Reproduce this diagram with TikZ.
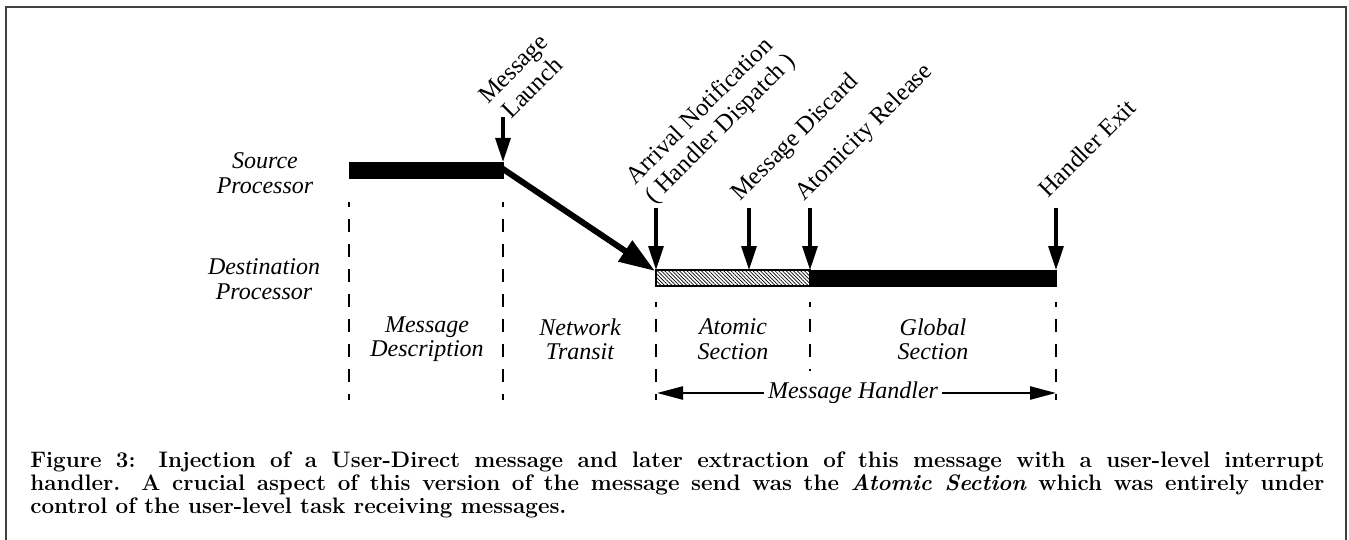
\documentclass[tikz,border=0pt]{standalone}
\usepackage{fontspec}
\newfontfamily\tms{Liberation Serif}
\usetikzlibrary{arrows.meta,patterns.meta}
\begin{document}
\begin{tikzpicture}[x=0.5pt,y=-0.5pt,
  lbl/.style={font=\tms\fontsize{12}{12.2}\selectfont\itshape, align=center, inner sep=0pt},
  rlbl/.style={font=\tms\fontsize{12.3}{13.6}\selectfont, rotate=45, anchor=base west, inner sep=0pt},
  evt/.style={line width=1.6pt, -{Triangle[length=12pt,width=7.5pt]}},
  guide/.style={line width=1pt, dash pattern=on 6.5pt off 6pt, dash phase=4pt},
  hndl/.style={line width=1.2pt, -{Triangle[length=13pt,width=6.5pt]}},
  frame/.style={line width=1pt, black!75}]
\useasboundingbox (0,0) rectangle (1349,540);
% frame
\coordinate (f1) at (6,545); \coordinate (f2) at (6,7);
\coordinate (f3) at (1346,7); \coordinate (f4) at (1346,545);
\draw[frame] (f1) -- (f2) -- (f3) -- (f4);

% processor labels
\node[lbl] (src) at (265,173) {Source\\Processor};
\node[lbl] (dst) at (264,279) {Destination\\Processor};

% guides
\coordinate (g1a) at (349,202); \coordinate (g1b) at (349,400);
\coordinate (g2a) at (503,202); \coordinate (g2b) at (503,400);
\coordinate (g3a) at (656,302); \coordinate (g3b) at (656,400);
\coordinate (g4a) at (810,302); \coordinate (g4b) at (810,371);
\coordinate (g5a) at (1056,302); \coordinate (g5b) at (1056,400);
\draw[guide] (g1a) -- (g1b);
\draw[guide] (g2a) -- (g2b);
\draw[guide] (g3a) -- (g3b);
\draw[guide] (g4a) -- (g4b);
\draw[guide] (g5a) -- (g5b);

% diagonal transit
\coordinate (ds) at (500,167);
\coordinate (dt) at (655,271);
\draw[line width=3pt, -{Triangle[length=18pt,width=12pt]}] (ds) -- (dt);

% bars
\fill (349,162) rectangle (504,179);
\draw[line width=0.8pt, fill=white, pattern={Lines[angle=-45,distance=1.3pt,line width=0.35pt]}] (656,270) rectangle (810,286);
\draw[line width=0.8pt] (656,270) rectangle (810,286);
\fill (810,269.5) rectangle (1057,286.5);

% event arrows
\coordinate (lt) at (503,117); \coordinate (lb) at (503,162);
\coordinate (at) at (656,208); \coordinate (ab) at (656,270);
\coordinate (mt) at (749,208); \coordinate (mb) at (749,270);
\coordinate (rt) at (810,208); \coordinate (rb) at (810,270);
\coordinate (et) at (1056,208); \coordinate (eb) at (1056,270);
\draw[evt] (lt) -- (lb);
\draw[evt] (at) -- (ab);
\draw[evt] (mt) -- (mb);
\draw[evt] (rt) -- (rb);
\draw[evt] (et) -- (eb);

% rotated labels (base west = last line's baseline, left edge of box)
\node[rlbl, align=center] (launch) at (507,124) {Message\\Launch};
\node[rlbl, align=left] (arrival) at (654,205) {Arrival Notification\\( Handler Dispatch )};
\node[rlbl] (discard) at (740,202) {Message Discard};
\node[rlbl] (release) at (804,202) {Atomicity Release};
\node[rlbl] (exit) at (1048,199) {Handler Exit};

% phase labels
\node[lbl] (md) at (427,339) {Message\\Description};
\node[lbl] (nt) at (580,339) {Network\\Transit};
\node[lbl] (as) at (733,339) {Atomic\\Section};
\node[lbl] (gs) at (933,339) {Global\\Section};

% message handler span
\node[lbl, inner xsep=2pt] (mh) at (853,393) {Message Handler};
\coordinate (hl) at (657,393); \coordinate (hr) at (1056,393);
\draw[hndl] (mh.west) -- (hl);
\draw[hndl] (mh.east) -- (hr);

% caption
\node[font=\fontsize{11.2}{11.6}\selectfont\bfseries, text width=647pt, align=justify,
      anchor=north west, inner sep=0pt] (cap) at (30,451)
{Figure 3: Injection of a User-Direct message and later extraction of this message with a user-level interrupt\linebreak
handler. A crucial aspect of this version of the message send was the \textit{Atomic Section} which was entirely under\linebreak
control of the user-level task receiving messages.};
\end{tikzpicture}
\end{document}
